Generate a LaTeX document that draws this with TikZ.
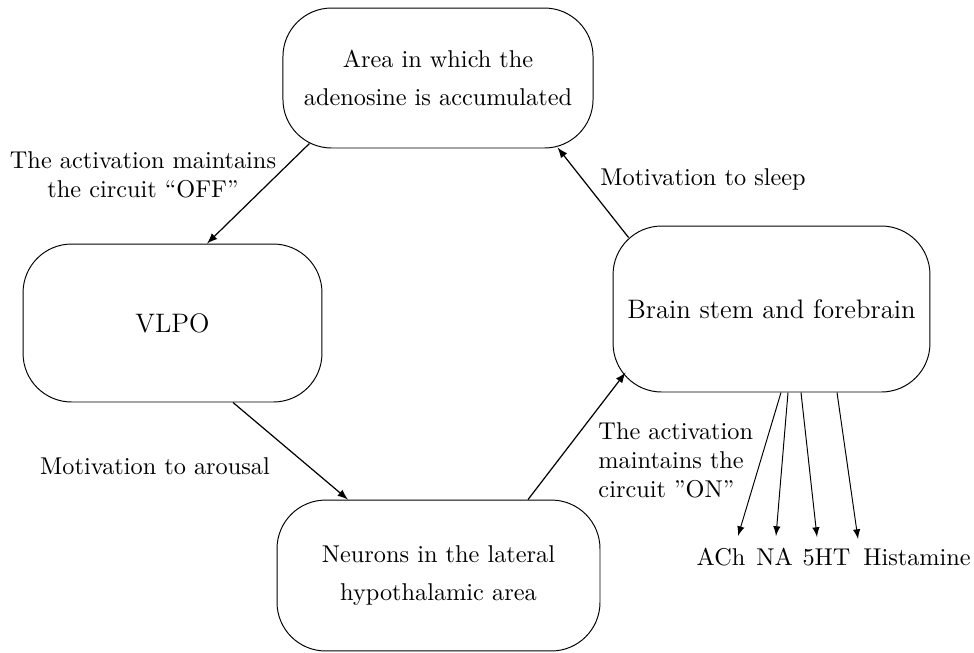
\documentclass[tikz,border=0pt]{standalone}
\usetikzlibrary{positioning}

\tikzset{
  area/.style={draw, rounded corners=20pt, align=center, inner sep=3pt,
    font=\fontsize{10}{15.5}\selectfont},
  bigarea/.style={area, font=\fontsize{11}{13}\selectfont},
  motiv/.style={align=center, inner sep=0pt},
  link/.style={-latex, line width=0.5pt},
  ntlink/.style={-latex, thin}
}

\begin{document}
\begin{tikzpicture}[x=0.4115pt, y=-0.4115pt]
\useasboundingbox (0,0) rectangle (974,652);

\node[area, minimum width=127.6pt, minimum height=57.6pt] (aden) at (438,78)
  {Area in which the\\adenosine is accumulated};
\node[bigarea, minimum width=123pt, minimum height=65pt] (vlpo) at (172.5,323) {VLPO};
\node[area, minimum width=132.9pt, minimum height=62.1pt] (lha) at (438.5,575.5)
  {Neurons in the lateral\\hypothalamic area};
\node[bigarea, minimum width=130.4pt, minimum height=68.3pt] (brain) at (771.5,309)
  {Brain stem and forebrain};

% the loop
\draw[link] ([shift={(27,-5)}]aden.south west) -- ([shift={(34.5,0)}]vlpo.north);
\draw[link] ([shift={(60.5,0)}]vlpo.south) -- ([shift={(-90.5,0)}]lha.north);
\draw[link] ([shift={(89.5,0)}]lha.north) -- ([shift={(13,-20)}]brain.south west);
\draw[link] ([shift={(16,12)}]brain.north west) -- ([shift={(-36,-1)}]aden.south east);

\node[motiv] (offlab) at (143,175) {The activation maintains\\the circuit ``OFF''};
\node[motiv] (arousallab) at (155,466) {Motivation to arousal};
\node[motiv, align=left, anchor=west] (onlab) at (598,460)
  {The activation\\maintains the\\circuit ''ON''};
\node[motiv] (sleeplab) at (703,179) {Motivation to sleep};

% transmitters
\foreach \lab/\lx/\dx/\tx/\ty [count=\n] in
  {ACh/721/9.5/738/536, NA/774.5/16.5/776/536,
   5HT/826.5/29.5/817/537, Histamine/917/65.5/858/539}{
    \node[anchor=base, inner sep=0pt] (nt\n) at (\lx,565) {\lab};
    \coordinate (tip\n) at (\tx,\ty);
    \draw[ntlink] ([shift={(\dx,0)}]brain.south) -- (tip\n);
  }
\end{tikzpicture}
\end{document}
